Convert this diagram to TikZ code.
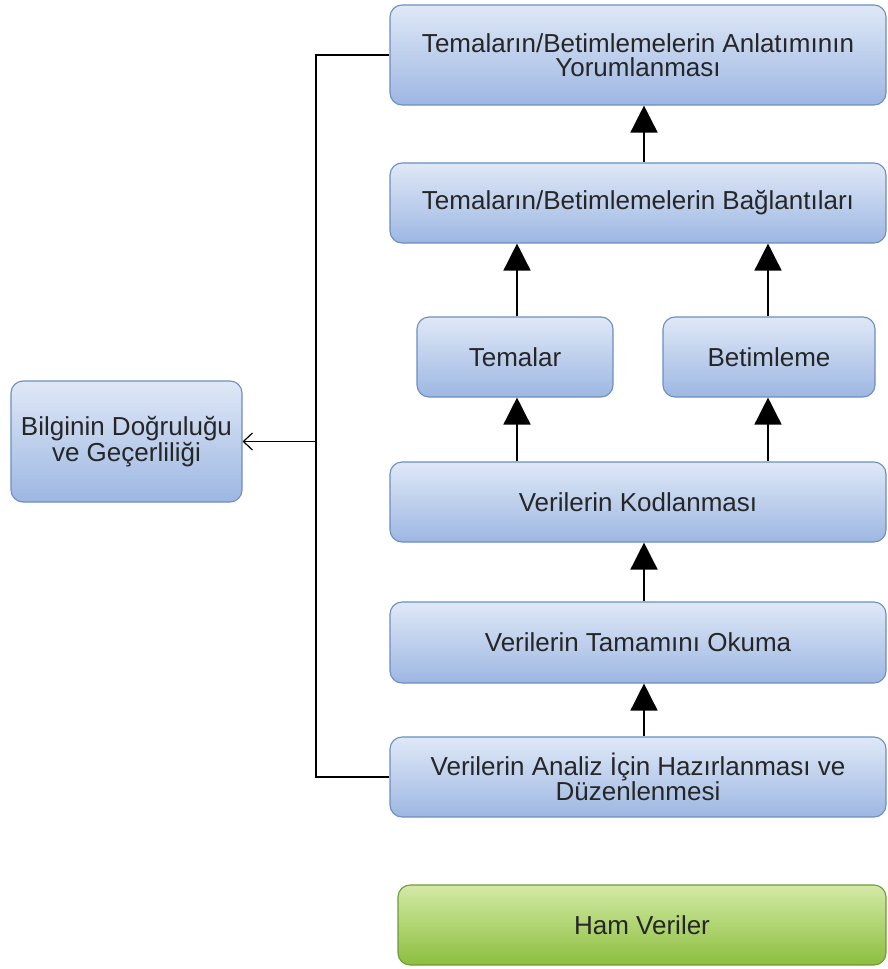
\documentclass[tikz,border=0pt]{standalone}
\usepackage{fontspec}
\setmainfont{Liberation Sans}
\usetikzlibrary{arrows.meta}
\begin{document}
\begin{tikzpicture}[x=1pt,y=-1pt,
  box/.style={draw=blueline, line width=1.1pt, rounded corners=12pt, top color=bluetop, bottom color=bluebot,
    align=center, inner sep=0pt, font=\fontsize{26}{24}\selectfont, text=black!85},
  greenbox/.style={box, draw=greenline, top color=greentop, bottom color=greenbot},
  flow/.style={line width=1.5pt, -{Triangle[length=27pt,width=27pt]}},
  link/.style={line width=1.2pt}
]
\definecolor{bluetop}{HTML}{DFE8F7}
\definecolor{bluebot}{HTML}{9DB7E2}
\definecolor{blueline}{HTML}{6C8EBF}
\definecolor{greentop}{HTML}{D3EAA6}
\definecolor{greenbot}{HTML}{8CBE3E}
\definecolor{greenline}{HTML}{6F9A3A}
\useasboundingbox (0,0) rectangle (888,969);

\node[box, minimum width=496pt, minimum height=100pt] (top) at (638,55) {Temaların/Betimlemelerin Anlatımının\\Yorumlanması};
\node[box, minimum width=496pt, minimum height=80pt] (bag) at (638,203) {Temaların/Betimlemelerin Bağlantıları};
\node[box, minimum width=196pt, minimum height=80pt] (tem) at (515,357) {Temalar};
\node[box, minimum width=212pt, minimum height=80pt] (bet) at (769,357) {Betimleme};
\node[box, minimum width=496pt, minimum height=80pt] (kod) at (638,502) {Verilerin Kodlanması};
\node[box, minimum width=496pt, minimum height=81pt] (oku) at (638,642.5) {Verilerin Tamamını Okuma};
\node[box, minimum width=496pt, minimum height=80pt] (ana) at (638,777) {Verilerin Analiz İçin Hazırlanması ve\\Düzenlenmesi};
\node[greenbox, minimum width=488pt, minimum height=80pt] (ham) at (642,925) {Ham Veriler};
\node[box, minimum width=231pt, minimum height=121pt] (bil) at (126.5,441.5) {Bilginin Doğruluğu\\ve Geçerliliği};

\coordinate (j) at (316,441.5);

\draw[flow] (ana.north -| 644,0) -- (oku.south -| 644,0);
\draw[flow] (oku.north -| 644,0) -- (kod.south -| 644,0);
\draw[flow] (kod.north -| 517,0) -- (tem.south -| 517,0);
\draw[flow] (kod.north -| 768,0) -- (bet.south -| 768,0);
\draw[flow] (tem.north -| 517,0) -- (bag.south -| 517,0);
\draw[flow] (bet.north -| 768,0) -- (bag.south -| 768,0);
\draw[flow] (bag.north -| 644,0) -- (top.south -| 644,0);

\draw[link] (top.west) -| (j) |- (ana.west);
\draw[link, -{Straight Barb[length=9pt,width=17pt,line width=1.2pt]}] (j) -- (bil.east);
\end{tikzpicture}
\end{document}
